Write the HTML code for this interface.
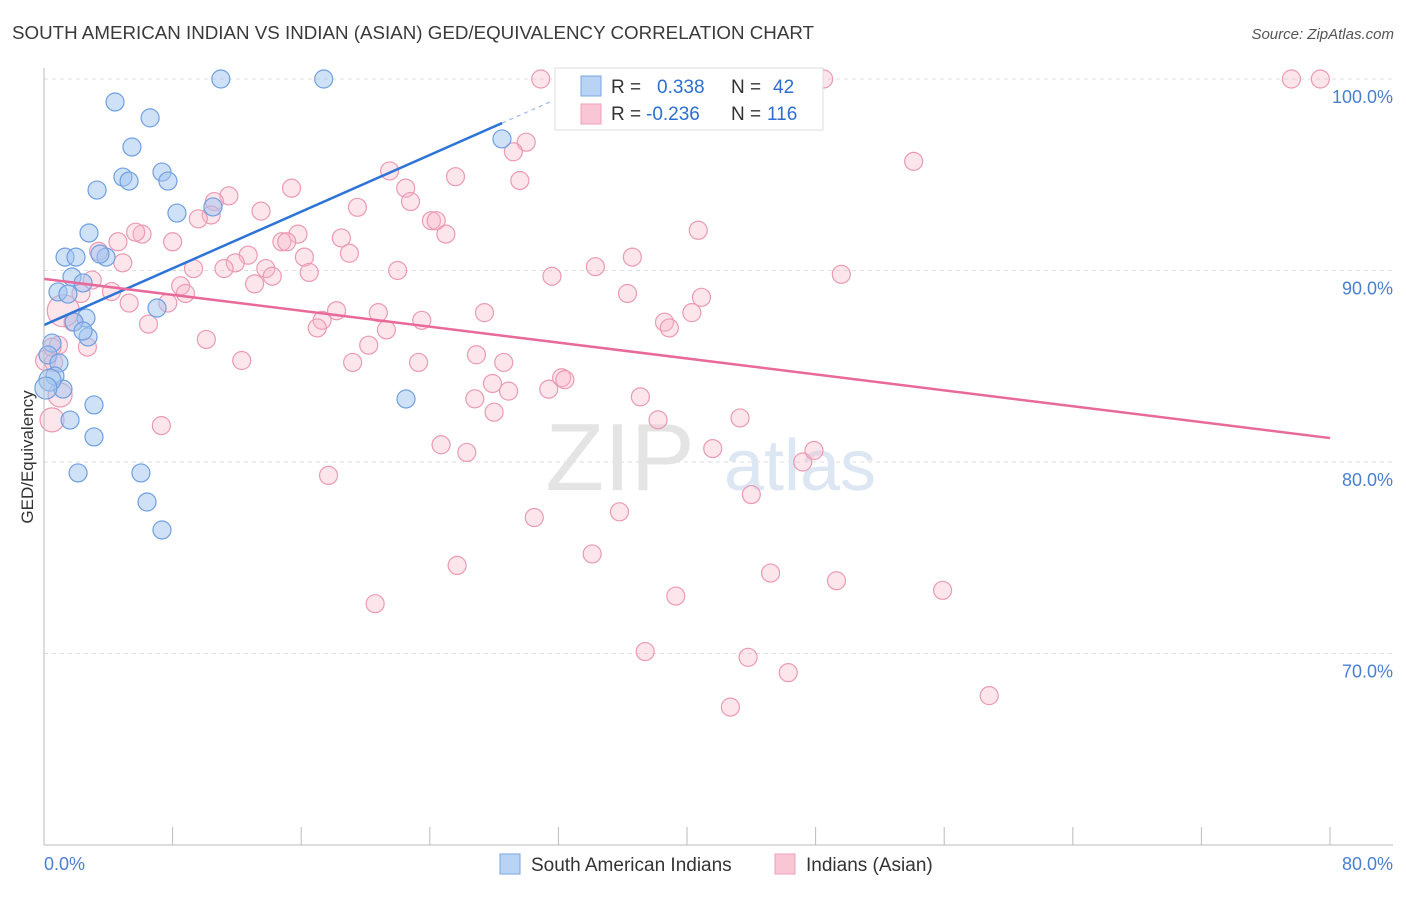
<!DOCTYPE html>
<html><head><meta charset="utf-8"><style>
body{margin:0;background:#fff;font-family:"Liberation Sans",sans-serif;}
svg text{font-family:"Liberation Sans",sans-serif;}
</style></head><body>
<svg id="chart" width="1406" height="892" viewBox="0 0 1406 892" xmlns="http://www.w3.org/2000/svg">
<text x="12" y="39" font-size="18" fill="#3a3a3a" textLength="802" lengthAdjust="spacingAndGlyphs">SOUTH AMERICAN INDIAN VS INDIAN (ASIAN) GED/EQUIVALENCY CORRELATION CHART</text>
<text x="1394" y="39" font-size="15" fill="#555" font-style="italic" text-anchor="end">Source: ZipAtlas.com</text>
<g id="grid"></g>
<g>
<text x="620" y="490" font-size="96" fill="#e4e4e4" font-family="Liberation Serif" text-anchor="middle">ZIP</text>
<text x="800" y="490" font-size="72" fill="#dde6f3" text-anchor="middle">atlas</text>
</g>
<g id="pts"></g>
<g id="lines"></g>
<g id="axes"></g>
<text transform="translate(33,457) rotate(-90)" font-size="17" fill="#333" text-anchor="middle">GED/Equivalency</text>
<g>
<rect x="555" y="68" width="268" height="62" fill="#fff" stroke="#ddd"/>
<rect x="581" y="76" width="20" height="20" fill="#b9d3f5" stroke="#7aa6e3"/>
<rect x="581" y="104" width="20" height="20" fill="#f9c6d5" stroke="#eea0b8"/>
<text x="611" y="93" font-size="19" fill="#333">R =</text>
<text x="657" y="93" font-size="19" fill="#2d6fd0">0.338</text>
<text x="731" y="93" font-size="19" fill="#333">N =</text>
<text x="773" y="93" font-size="19" fill="#2d6fd0">42</text>
<text x="611" y="120" font-size="19" fill="#333">R =</text>
<text x="646" y="120" font-size="19" fill="#2d6fd0">-0.236</text>
<text x="731" y="120" font-size="19" fill="#333">N =</text>
<text x="767" y="120" font-size="19" fill="#2d6fd0">116</text>
</g>
<g>
<rect x="500" y="854" width="20" height="20" fill="#b9d3f5" stroke="#7aa6e3"/>
<text x="531" y="871" font-size="19" fill="#333">South American Indians</text>
<rect x="775" y="854" width="20" height="20" fill="#f9c6d5" stroke="#eea0b8"/>
<text x="806" y="871" font-size="19" fill="#333">Indians (Asian)</text>
</g>
</svg>
<script>
const blueX=[11.0,17.4,4.42,6.6,5.47,4.91,5.29,7.34,7.71,3.30,8.27,10.51,2.80,1.31,1.99,3.86,1.74,2.43,0.87,1.49,2.61,1.87,2.74,2.43,0.5,0.25,0.93,0.68,1.18,0.37,0.12,3.11,1.62,3.11,2.12,6.03,6.41,7.34,22.52,28.49,3.48,7.03];
const blueY=[100,100,98.8,97.97,96.45,94.88,94.67,95.14,94.67,94.2,93.0,93.32,91.96,90.7,90.7,90.7,89.66,89.35,88.88,88.77,87.52,87.31,86.53,86.84,86.21,85.59,85.17,84.49,83.81,84.28,83.86,82.98,82.19,81.31,79.43,79.43,77.91,76.45,83.29,96.87,90.86,88.04];
const blueBig=[29,30];
const pinkX=[30.9,46.8,48.5,77.6,79.4,30.0,29.2,54.1,21.5,29.6,25.6,15.4,22.5,11.5,10.6,22.8,19.5,13.5,10.4,9.6,24.1,24.4,40.7,25.0,6.1,5.7,4.6,8.0,15.8,14.8,15.1,18.5,12.7,3.4,19.0,4.9,11.9,16.2,9.3,11.2,36.6,13.8,22.0,16.5,34.3,31.6,49.6,14.2,3.0,8.5,8.8,36.3,4.2,2.3,13.1,40.9,5.3,7.7,18.2,20.8,27.4,40.3,17.3,17.0,21.3,23.5,38.6,38.9,1.8,6.5,10.1,20.2,2.7,0.9,26.9,0.6,12.3,19.2,23.3,28.6,32.2,32.4,27.9,28.9,31.4,26.8,37.1,28.0,43.3,38.2,7.3,24.7,41.6,26.3,47.2,47.9,17.7,44.0,30.5,35.8,34.1,25.7,45.2,49.3,55.9,39.3,20.6,37.4,43.8,46.3,42.7,58.8,1.2,0.5,1.0,0.1,0.5];
const pinkY=[100,100,100,100,100,96.7,96.2,95.7,95.2,94.7,94.9,94.3,94.3,93.9,93.6,93.6,93.3,93.1,92.9,92.7,92.6,92.6,92.1,91.9,91.9,92.0,91.5,91.5,91.9,91.5,91.5,91.7,90.8,91.0,90.9,90.4,90.4,90.7,90.1,90.1,90.7,90.1,90.0,89.9,90.2,89.7,89.8,89.7,89.5,89.2,88.8,88.8,88.9,88.8,89.3,88.6,88.3,88.3,87.9,87.8,87.8,87.8,87.4,87.0,86.9,87.4,87.3,87.0,87.3,87.2,86.4,86.1,86.0,86.1,85.6,85.2,85.3,85.2,85.2,85.2,84.4,84.3,84.1,83.7,83.8,83.3,83.4,82.6,82.3,82.2,81.9,80.9,80.7,80.5,80.0,80.6,79.3,78.3,77.1,77.4,75.2,74.6,74.2,73.8,73.3,73.0,72.6,70.1,69.8,69.0,67.2,67.8,87.9,82.2,83.5,85.3,86.0];
const pinkBig=[112,113,114,115];
const pinkBigR=[16,12,12,10];
const yTicks=[100,90,80,70];
const yTickLabels=["100.0%","90.0%","80.0%","70.0%"];
const xTicks=[0,8,16,24,32,40,48,56,64,72,80];
const blueTrend=[[0,87.15],[28.5,97.7]];
const blueTrendExt=[28.5,31.5];
const pinkTrend=[[0,89.56],[80,81.25]];

const NS="http://www.w3.org/2000/svg";
const X0=44,X1=1330,YTOP=79,PXPER=19.15;
const sx=v=>X0+(v/80)*(X1-X0);
const sy=v=>YTOP+(100-v)*PXPER;
function mk(tag,attrs,parent){const e=document.createElementNS(NS,tag);for(const k in attrs)e.setAttribute(k,attrs[k]);parent.appendChild(e);return e;}
const grid=document.getElementById('grid'),axes=document.getElementById('axes'),pts=document.getElementById('pts'),lines=document.getElementById('lines');
yTicks.forEach((t,i)=>{
 const l=mk('line',{x1:X0,x2:1393,y1:sy(t),y2:sy(t),stroke:'#ddd','stroke-dasharray':'4,4'},grid);
 
 
 const tx=mk('text',{x:1393,y:sy(t)+24,'font-size':18,fill:'#4a7fd0','text-anchor':'end'},axes);
 tx.textContent=yTickLabels[i];
 
 
});
mk('line',{x1:X0,x2:X0,y1:68,y2:845,stroke:'#bbb'},axes);
mk('line',{x1:X0,x2:1393,y1:845,y2:845,stroke:'#bbb'},axes);
xTicks.forEach(t=>{
 const l=mk('line',{x1:sx(t),x2:sx(t),y1:827,y2:845,stroke:'#bbb'},axes);
 
 
});
const xl0=mk('text',{x:44,y:870,'font-size':18,fill:'#4a7fd0'},axes);xl0.textContent='0.0%';


const xl1=mk('text',{x:1393,y:870,'font-size':18,fill:'#4a7fd0','text-anchor':'end'},axes);xl1.textContent='80.0%';


pinkX.forEach((v,i)=>{
 const bi=pinkBig.indexOf(i);
 const c=mk('circle',{cx:sx(v),cy:sy(pinkY[i]),r:bi>=0?pinkBigR[bi]:9,fill:'rgba(248,180,200,0.35)',stroke:'#eb9ab3','stroke-width':1.2},pts);
 
 
});
blueX.forEach((v,i)=>{
 const c=mk('circle',{cx:sx(v),cy:sy(blueY[i]),r:blueBig.includes(i)?11:9,fill:'rgba(160,195,240,0.5)',stroke:'#6f9fe0','stroke-width':1.2},pts);
 
 
});
const bl=mk('line',{x1:sx(blueTrend[0][0]),y1:sy(blueTrend[0][1]),x2:sx(blueTrend[1][0]),y2:sy(blueTrend[1][1]),stroke:'#2d74d6','stroke-width':2.5},lines);


const slope=(blueTrend[1][1]-blueTrend[0][1])/(blueTrend[1][0]-blueTrend[0][0]);
const be=mk('line',{x1:sx(blueTrendExt[0]),y1:sy(blueTrend[0][1]+slope*blueTrendExt[0]),x2:sx(blueTrendExt[1]),y2:sy(blueTrend[0][1]+slope*blueTrendExt[1]),stroke:'#9bbbe8','stroke-width':1.2,'stroke-dasharray':'4,4'},lines);


const pl=mk('line',{x1:sx(pinkTrend[0][0]),y1:sy(pinkTrend[0][1]),x2:sx(pinkTrend[1][0]),y2:sy(pinkTrend[1][1]),stroke:'#e8699a','stroke-width':2.5},lines);


</script>
</body></html>
